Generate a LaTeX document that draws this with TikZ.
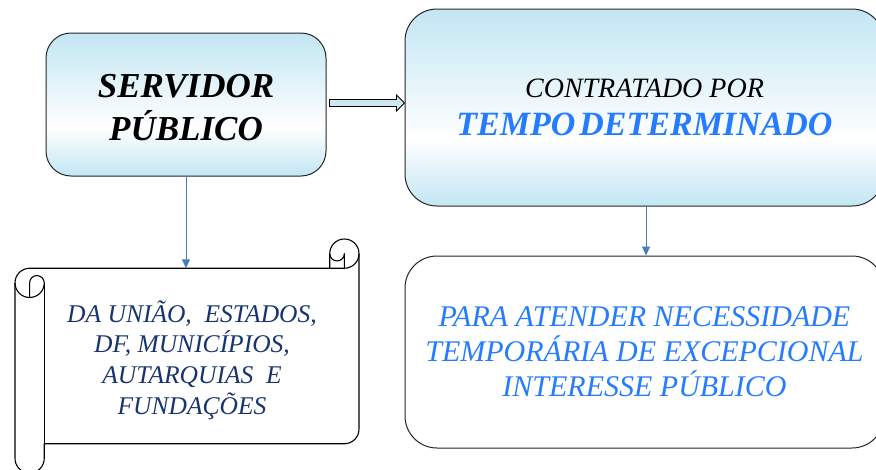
\documentclass[tikz,border=0pt]{standalone}
\usepackage{fontspec}
\setmainfont{Liberation Serif}
\usetikzlibrary{arrows.meta,calc}
\definecolor{gblue}{RGB}{194,230,243}
\definecolor{tblue}{RGB}{38,124,255}
\definecolor{navy}{RGB}{24,52,110}
\definecolor{arrblue}{RGB}{74,126,187}
\definecolor{harrow}{RGB}{205,232,240}
\pgfdeclareverticalshading{boxgrad}{100bp}{color(0bp)=(gblue); color(25bp)=(gblue); color(42bp)=(white); color(75bp)=(gblue); color(100bp)=(gblue)}
\begin{document}
\begin{tikzpicture}[x=1pt,y=-1pt,
  gradbox/.style={draw=black!85, line width=1pt, shading=boxgrad, align=center, inner sep=0pt},
  plainbox/.style={draw=black!85, line width=1pt, fill=white, align=center, inner sep=0pt},
  conn/.style={draw=arrblue, line width=1pt, -{Triangle[length=9pt,width=8pt]}},
  scrollline/.style={draw=black, line width=1.1pt, line join=round}]
\fill[white] (0,0) rectangle (876,469);
\useasboundingbox (0,0) rectangle (876,469);

% boxes
\node[gradbox, minimum width=280pt, minimum height=143pt, rounded corners=25pt,
      font=\fontsize{35}{43}\selectfont\bfseries\itshape] (sp) at (186,104.5) {\rule{0pt}{29pt}SERVIDOR\\PÚBLICO};
\node[gradbox, minimum width=479pt, minimum height=197pt, rounded corners=32pt,
      font=\fontsize{28}{37.5}\selectfont\itshape] (rt) at (644.5,107.5)
      {CONTRATADO POR\\{\fontsize{34}{37.5}\selectfont\bfseries\color{tblue}TEMPO\hspace{4pt}DETERMINADO}};
\node[plainbox, minimum width=479pt, minimum height=192pt, rounded corners=32pt,
      font=\fontsize{30}{35}\selectfont\itshape, text=tblue] (rb) at (644.5,352)
      {PARA ATENDER NECESSIDADE\\TEMPORÁRIA DE EXCEPCIONAL\\INTERESSE PÚBLICO};

% scroll shape
\draw[scrollline] (15,282.875) arc[start angle=180, delta angle=90, radius=14.625]
  -- (329.75,268.25) -- (329.75,253.625) arc[start angle=180, delta angle=180, radius=14.625]
  -- (359,429.125) arc[start angle=0, delta angle=90, radius=14.625]
  -- (44.25,443.75) -- (44.25,458.375) arc[start angle=0, delta angle=180, radius=14.625] -- cycle;
\draw[scrollline] (329.75,268.25) -- (344.375,268.25) arc[start angle=90, delta angle=-90, radius=14.625];
\draw[scrollline] (344.375,268.25) -- (344.375,253.625) arc[start angle=0, delta angle=180, radius=7.3125];
\draw[scrollline] (29.625,297.5) -- (29.625,282.875) arc[start angle=180, delta angle=180, radius=7.3125]
  arc[start angle=0, delta angle=180, radius=14.625];
\draw[scrollline] (44.25,282.875) -- (44.25,443.75);
\node[font=\fontsize{25.5}{30.7}\selectfont\itshape, text=navy, align=center] (scr) at (192,360)
  {DA UNIÃO,\ \ ESTADOS,\\DF, MUNICÍPIOS,\\AUTARQUIAS\ \ E\\FUNDAÇÕES};
\coordinate (scrolltop) at (185,268.25);

% connectors
\draw[conn] (sp.south) -- (sp.south |- scrolltop);
\coordinate (rx) at (646,0);
\draw[conn] (rt.south -| rx) -- (rb.north -| rx);

% block arrow
\coordinate (ha) at ($(sp.east)+(3,-1.5)$);
\coordinate (ht) at (rt.west |- ha);
\filldraw[fill=harrow, draw=black, line width=0.9pt, line join=miter]
  ($(ha)+(0,-3.5)$) -- ($(ht)+(-8,-3.5)$) -- ($(ht)+(-8,-8)$) -- (ht)
  -- ($(ht)+(-8,8)$) -- ($(ht)+(-8,3.5)$) -- ($(ha)+(0,3.5)$) -- cycle;
\end{tikzpicture}
\end{document}
